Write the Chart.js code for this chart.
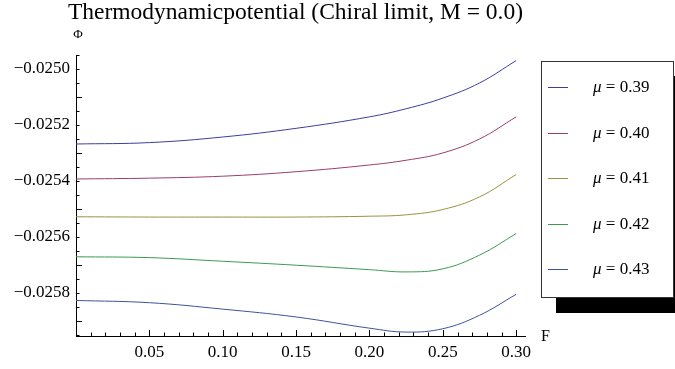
<!DOCTYPE html>
<html>
<head>
<meta charset="utf-8">
<script src="https://cdn.jsdelivr.net/npm/chart.js@4"></script>
<style>
  body { margin: 0; background: #fff; }
  #wrap { position: relative; width: 675px; height: 369px; overflow: hidden; }
  #legend {
    position: absolute; left: 541px; top: 61px; width: 131px; height: 235px;
    border: 1px solid #333; background: #fff; box-shadow: 15px 15px 0 #000;
    font-family: "Liberation Serif", serif; font-size: 17px; color: #000;
  }
  .row { position: absolute; left: 0; width: 131px; height: 20px; line-height: 20px; }
  .row .swatch { position: absolute; left: 6px; top: 10px; width: 20px; height: 0; border-top: 1px solid; }
  .row .txt { position: absolute; left: 51px; top: 0; white-space: nowrap; }
</style>
</head>
<body>
<div id="wrap">
  <canvas id="myChart" width="675" height="369"></canvas>
  <div id="legend"></div>
</div>
<script>
// sample points of F along the x axis
const fValues = [0, 0.05, 0.10, 0.15, 0.20, 0.225, 0.25, 0.275, 0.30];

// Phi for each chemical potential
const phi039 = [-0.025268, -0.025263, -0.025243, -0.025212, -0.025171, -0.025142, -0.025104, -0.025050, -0.024970];
const phi040 = [-0.025393, -0.025390, -0.025383, -0.025367, -0.025343, -0.025326, -0.025300, -0.025250, -0.025171];
const phi041 = [-0.025528, -0.025529, -0.025529, -0.025529, -0.025526, -0.025521, -0.025502, -0.025457, -0.025377];
const phi042 = [-0.025671, -0.025674, -0.025687, -0.025701, -0.025717, -0.025725, -0.025714, -0.025665, -0.025588];
const phi043 = [-0.025827, -0.025835, -0.025858, -0.025886, -0.025926, -0.025940, -0.025928, -0.025880, -0.025805];

const muLabels = ["0.39", "0.40", "0.41", "0.42", "0.43"];
const seriesValues = [phi039, phi040, phi041, phi042, phi043];
const lineColors = ["#3f3d99", "#993d6d", "#99933d", "#3d9951", "#3d5399"];

// tick labels
const xTicks = [0.05, 0.10, 0.15, 0.20, 0.25, 0.30];
const yTicks = [-0.0250, -0.0252, -0.0254, -0.0256, -0.0258];

const serif = "'Liberation Serif', serif";

//Draws the inward Mathematica style ticks plus title and axis names
const frameExtras = {
    id: "frameExtras",
    afterDraw(chart) {
        const ctx = chart.ctx;
        const xs = chart.scales.x;
        const ys = chart.scales.y;
        const a = chart.chartArea;
        ctx.save();
        ctx.strokeStyle = "#000";
        ctx.lineWidth = 1;
        ctx.beginPath();
        // x ticks every 0.01, long ones every 0.05
        for (let i = 1; i <= 30; i++) {
            const px = Math.round(xs.getPixelForValue(i / 100)) + 0.5;
            const len = i % 5 === 0 ? 6 : 3.5;
            ctx.moveTo(px, a.bottom);
            ctx.lineTo(px, a.bottom - len);
        }
        // y ticks every 0.00005, long ones every 0.0002
        for (let i = 0; i <= 20; i++) {
            const v = -0.02595 + i * 0.00005;
            const py = Math.round(ys.getPixelForValue(v)) + 0.5;
            const len = i % 4 === 1 ? 6 : 3.5;
            ctx.moveTo(a.left, py);
            ctx.lineTo(a.left + len, py);
        }
        ctx.stroke();

        ctx.fillStyle = "#000";
        ctx.textBaseline = "alphabetic";
        ctx.textAlign = "center";
        ctx.font = "23.5px " + serif;
        ctx.fillText("Thermodynamicpotential (Chiral limit, M = 0.0)", 295.5, 19);
        ctx.font = "13px " + serif;
        ctx.fillText("\u03A6", a.left + 2, 38);
        ctx.textAlign = "left";
        ctx.font = "16px " + serif;
        ctx.fillText("F", a.right + 16, 341);
        ctx.restore();
    },
};

const datasets = seriesValues.map((vals, i) => ({
    label: "\u03BC = " + muLabels[i],
    data: vals.map((v, j) => ({ x: fValues[j], y: v })),
    borderColor: lineColors[i],
    borderWidth: 1,
    pointRadius: 0,
    fill: false,
    tension: 0.4,
}));

const config = {
    type: "line",
    data: { datasets: datasets },
    options: {
        responsive: false,
        animation: false,
        font: { family: serif },
        layout: { padding: { top: 55, right: 150, left: 0, bottom: 0 } },
        plugins: {
            legend: { display: false },
            tooltip: { enabled: false },
        },
        scales: {
            x: {
                type: "linear",
                min: 0,
                max: 0.306,
                grid: { display: false, drawTicks: false },
                border: { display: true, color: "#000", width: 1 },
                afterBuildTicks: (scale) => {
                    scale.ticks = xTicks.map((v) => ({ value: v }));
                },
                afterFit: (scale) => {
                    scale.height = 33;
                },
                ticks: {
                    color: "#000",
                    padding: 6,
                    maxRotation: 0,
                    autoSkip: false,
                    font: { family: serif, size: 17 },
                    callback: (v) => Number(v).toFixed(2),
                },
            },
            y: {
                type: "linear",
                min: -0.025954,
                max: -0.02495,
                grid: { display: false, drawTicks: false },
                border: { display: true, color: "#000", width: 1 },
                afterBuildTicks: (scale) => {
                    scale.ticks = yTicks.map((v) => ({ value: v }));
                },
                afterFit: (scale) => {
                    scale.width = 76;
                },
                ticks: {
                    color: "#000",
                    padding: 6,
                    autoSkip: false,
                    font: { family: serif, size: 17 },
                    callback: (v) => "\u2212" + Math.abs(v).toFixed(4),
                },
            },
        },
    },
    plugins: [frameExtras],
};

Chart.defaults.font.family = serif;
const myChart = new Chart(document.querySelector("#myChart"), config);

//Legend box built from the same arrays
const legend = document.getElementById("legend");
muLabels.forEach((mu, i) => {
    const row = document.createElement("div");
    row.className = "row";
    row.style.top = (15 + i * 45.6) + "px";
    row.innerHTML = '<span class="swatch" style="border-color:' + lineColors[i] + '"></span>' +
        '<span class="txt"><i>\u03BC</i> = ' + mu + "</span>";
    legend.appendChild(row);
});
</script>
</body>
</html>
